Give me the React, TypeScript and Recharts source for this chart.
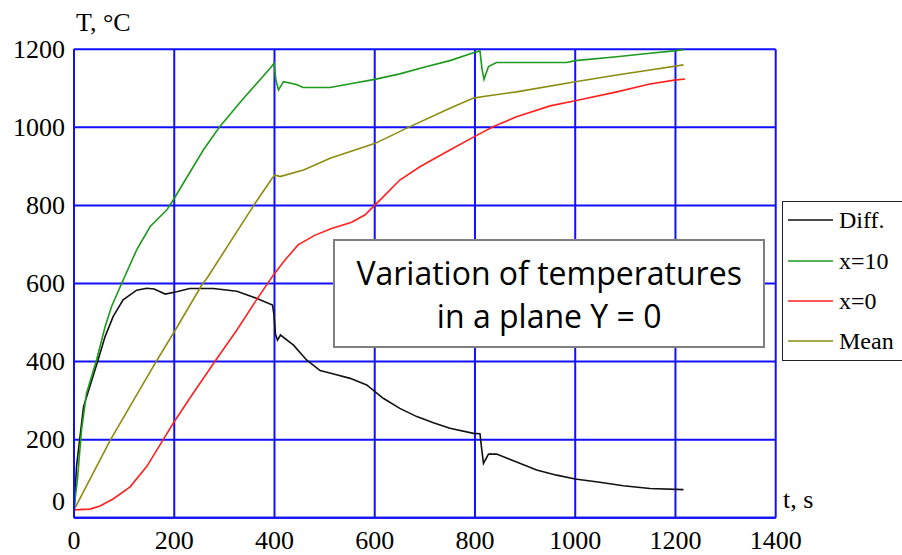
import React from "react";
import { LineChart, Line, XAxis, YAxis, CartesianGrid } from "recharts";

// Diff.
const diffT = [0, 5, 19, 48, 62, 78, 98, 125, 145, 160, 182, 205, 231, 278, 325, 364, 396, 399, 402, 406, 412, 438, 464, 491, 518, 551, 584, 617, 650, 684, 717, 750, 797, 810, 813, 817, 827, 843, 883, 923, 963, 1000, 1049, 1096, 1149, 1216];
const diffV = [10, 131, 284, 404, 464, 515, 558, 583, 588, 586, 573, 579, 587, 587, 580, 562, 545, 520, 470, 455, 468, 442, 404, 377, 368, 357, 340, 306, 280, 259, 243, 229, 216, 215, 180, 139, 163, 163, 143, 122, 109, 99, 91, 82, 75, 72];
// x=10
const x10T = [0, 2, 7, 15, 25, 45, 62, 75, 95, 125, 152, 185, 198, 258, 291, 338, 391, 399, 403, 408, 418, 444, 457, 511, 557, 600, 650, 704, 750, 797, 810, 814, 818, 827, 843, 983, 1000, 1083, 1149, 1198, 1216];
const x10V = [20, 45, 100, 225, 319, 404, 489, 541, 600, 686, 746, 788, 814, 942, 1002, 1074, 1151, 1164, 1120, 1096, 1117, 1110, 1102, 1102, 1113, 1123, 1137, 1156, 1171, 1191, 1196, 1150, 1123, 1156, 1166, 1166, 1171, 1181, 1190, 1196, 1199];
// x=0
const x0T = [0, 32, 52, 78, 112, 145, 178, 198, 231, 281, 325, 364, 381, 398, 421, 447, 481, 514, 554, 581, 597, 614, 650, 690, 750, 797, 837, 883, 950, 1000, 1083, 1149, 1198, 1219];
const x0V = [20, 22, 30, 48, 79, 131, 200, 242, 306, 400, 481, 558, 590, 622, 660, 699, 724, 741, 757, 776, 797, 818, 865, 899, 942, 975, 1002, 1027, 1055, 1068, 1091, 1111, 1121, 1124];
// Mean
const meanT = [0, 73, 162, 198, 255, 265, 358, 395, 401, 411, 458, 511, 601, 664, 750, 797, 817, 883, 1000, 1083, 1149, 1216];
const meanV = [20, 200, 396, 472, 596, 613, 799, 869, 878, 874, 891, 921, 959, 998, 1049, 1075, 1079, 1091, 1117, 1134, 1147, 1160];

const xTicks = [0, 200, 400, 600, 800, 1000, 1200, 1400];
const yTicks = [0, 200, 400, 600, 800, 1000, 1200];

const seriesNames = ["Diff.", "x=10", "x=0", "Mean"];
const seriesColors = ["#111111", "#1c9a1c", "#ff2020", "#8c8c10"];

const toPts = (ts: number[], vs: number[]) => ts.map((t, i) => ({ t, v: vs[i] }));
const seriesData = [toPts(diffT, diffV), toPts(x10T, x10V), toPts(x0T, x0V), toPts(meanT, meanV)];

const SERIF = "'Liberation Serif', 'Times New Roman', serif";

const YTick = (props: any) => {
  const { x, y, payload } = props;
  const yy = payload.value === 0 ? y - 16 : y;
  return (
    <text x={x} y={yy} textAnchor="end" dominantBaseline="central" fontFamily={SERIF} fontSize={26} fill="#000">
      {payload.value}
    </text>
  );
};

const XTick = (props: any) => {
  const { x, y, payload } = props;
  return (
    <text x={x} y={y} textAnchor="middle" dominantBaseline="central" fontFamily={SERIF} fontSize={26} fill="#000">
      {payload.value}
    </text>
  );
};

const LegendBox = () => (
  <div
    style={{
      position: "absolute",
      left: 781.5,
      top: 200.7,
      boxSizing: "border-box",
      width: 121,
      height: 160,
      border: "1.5px solid #222",
      background: "#fff",
      fontFamily: SERIF,
      fontSize: 24,
      color: "#000",
    }}
  >
    {seriesNames.map((n, i) => (
      <div key={n} style={{ position: "absolute", left: 5.5, top: 3.8 + i * 40.2, height: 30, display: "flex", alignItems: "center" }}>
        <svg width={46} height={4} style={{ display: "block" }}>
          <line x1={0} y1={2} x2={45} y2={2} stroke={seriesColors[i]} strokeWidth={1.6} />
        </svg>
        <span style={{ marginLeft: 5, lineHeight: "30px", whiteSpace: "nowrap" }}>{n}</span>
      </div>
    ))}
  </div>
);

export default function App() {
  return (
    <div style={{ position: "absolute", left: 0, top: 0, width: 902, height: 555, background: "#fff", overflow: "hidden" }}>
      <LineChart width={902} height={555} margin={{ top: 49.3, right: 126.3, bottom: 0, left: 10 }}>
        <CartesianGrid stroke="#1010ff" strokeWidth={2} />
        <XAxis
          type="number"
          dataKey="t"
          domain={[0, 1400]}
          ticks={xTicks}
          interval={0}
          height={37.3}
          tickSize={0}
          tickMargin={23}
          tickLine={false}
          axisLine={{ stroke: "#1010ff", strokeWidth: 2 }}
          tick={<XTick />}
        />
        <YAxis
          type="number"
          dataKey="v"
          domain={[0, 1200]}
          ticks={yTicks}
          interval={0}
          width={64}
          tickSize={0}
          tickMargin={9}
          tickLine={false}
          axisLine={{ stroke: "#1010ff", strokeWidth: 2 }}
          tick={<YTick />}
        />
        {seriesData.map((d, i) => (
          <Line
            key={seriesNames[i]}
            name={seriesNames[i]}
            data={d}
            dataKey="v"
            type="linear"
            stroke={seriesColors[i]}
            strokeWidth={1.6}
            dot={false}
            activeDot={false}
            isAnimationActive={false}
          />
        ))}
      </LineChart>
      <LegendBox />
      <div style={{ position: "absolute", left: 76, top: 7, fontFamily: SERIF, fontSize: 26, lineHeight: "32px", color: "#000", whiteSpace: "nowrap" }}>
        T, °C
      </div>
      <div style={{ position: "absolute", left: 783, top: 484, fontFamily: SERIF, fontSize: 26, lineHeight: "32px", color: "#000", whiteSpace: "nowrap" }}>
        t, s
      </div>
      <div
        style={{
          position: "absolute",
          left: 333.3,
          top: 239.3,
          width: 431.7,
          height: 109,
          boxSizing: "border-box",
          border: "2px solid #7f7f7f",
          background: "#fff",
          fontFamily: "'Open Sans', Lato, sans-serif",
          fontSize: 32,
          lineHeight: "43px",
          color: "#000",
          textAlign: "center",
          paddingTop: 9.5,
        }}
      >
        <div>Variation of temperatures</div>
        <div>in a plane Y = 0</div>
      </div>
    </div>
  );
}
